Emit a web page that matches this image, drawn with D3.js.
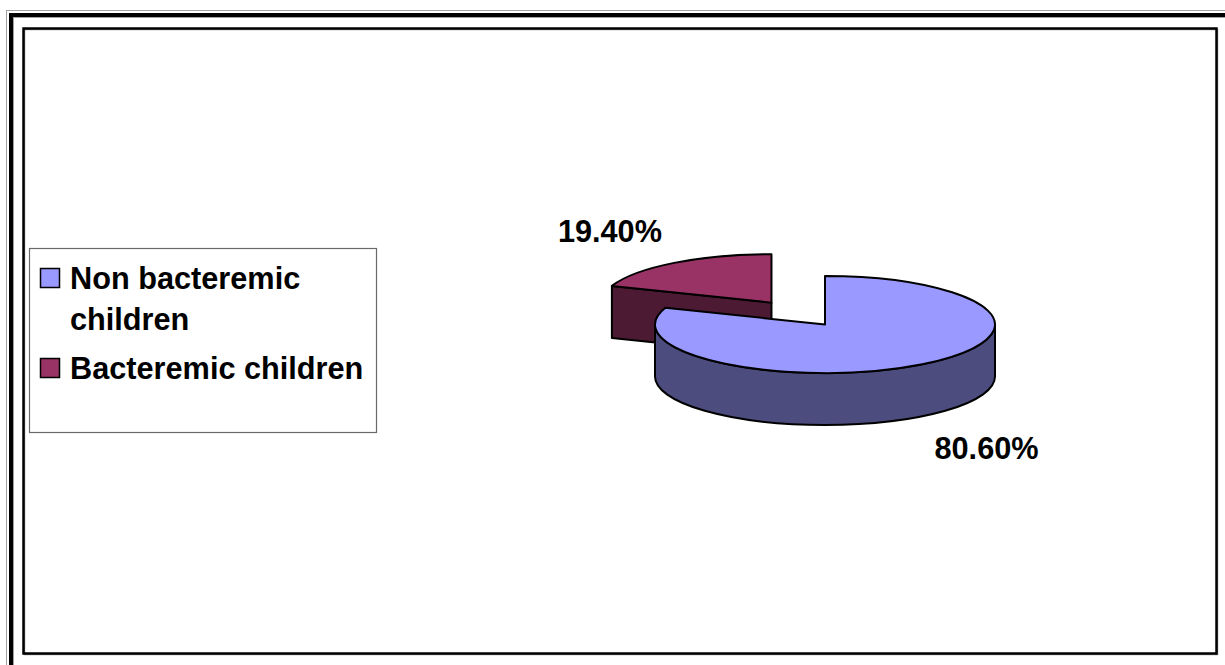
<!DOCTYPE html>
<html>
<head>
<meta charset="utf-8">
<script src="https://cdn.jsdelivr.net/npm/d3@7/dist/d3.min.js"></script>
<style>
  html, body { margin: 0; padding: 0; background: #fff; }
  svg { display: block; }
  text { font-family: "Liberation Sans", Arial, sans-serif; font-weight: bold; fill: #000; }
</style>
</head>
<body>
<svg id="chart" width="1225" height="665"></svg>
<script>
// Share of children by blood-culture result
const categories = ["Non bacteremic children", "Bacteremic children"];
const values = [80.6, 19.4];
const valueLabels = ["80.60%", "19.40%"];
const topColors = ["#9999ff", "#993366"];
const sideColors = ["#4c4c7f", "#4d1a33"];

const W = 1225, H = 665;
const FONT = 30.7;
const svg = d3.select("#chart");

// ---- frames ----
// outer double rule (runs off the right and bottom edges)
svg.append("rect").attr("x", 6.5).attr("y", 10.5).attr("width", 1240).attr("height", 700)
  .attr("fill", "none").attr("stroke", "#a0a0a0").attr("stroke-width", 1);
svg.append("rect").attr("x", 11).attr("y", 15).attr("width", 1240).attr("height", 700)
  .attr("fill", "none").attr("stroke", "#000").attr("stroke-width", 4);
svg.append("rect").attr("x", 13.5).attr("y", 17.5).attr("width", 1240).attr("height", 700)
  .attr("fill", "none").attr("stroke", "#a0a0a0").attr("stroke-width", 1);
// inner plot frame with a light shadow
svg.append("rect").attr("x", 24.5).attr("y", 29.5).attr("width", 1193).attr("height", 625)
  .attr("fill", "none").attr("stroke", "#9a9a9a").attr("stroke-width", 1.5);
svg.append("rect").attr("x", 23.5).attr("y", 28.5).attr("width", 1193).attr("height", 625)
  .attr("fill", "none").attr("stroke", "#000").attr("stroke-width", 2.5);

// ---- 3D pie geometry ----
const cx = 825, cy = 324.5, rx = 170, ry = 48.5, depth = 52;
const explode = [0, 0.55];

const pie = d3.pie().sort(null).value(d => d)
  .startAngle(0).endAngle(2 * Math.PI);
const arcs = pie(values);

// a point on the slice's top ellipse, angle measured clockwise from 12 o'clock
function pt(a, c, dy = 0) {
  return [c[0] + rx * Math.sin(a), c[1] - ry * Math.cos(a) + dy];
}
function centerOf(d, i) {
  const mid = (d.startAngle + d.endAngle) / 2;
  const e = explode[i];
  return [cx + e * rx * Math.sin(mid), cy - e * ry * Math.cos(mid)];
}
function topPath(d, c) {
  const p0 = pt(d.startAngle, c), p1 = pt(d.endAngle, c);
  const large = (d.endAngle - d.startAngle) > Math.PI ? 1 : 0;
  return `M${c[0]},${c[1]}L${p0[0]},${p0[1]}A${rx},${ry} 0 ${large} 1 ${p1[0]},${p1[1]}Z`;
}
// front curved wall between angles a0 and a1 (clockwise)
function wallPath(a0, a1, c) {
  const p0 = pt(a0, c), p1 = pt(a1, c);
  const q0 = pt(a0, c, depth), q1 = pt(a1, c, depth);
  const large = (a1 - a0) > Math.PI ? 1 : 0;
  return `M${p0[0]},${p0[1]}A${rx},${ry} 0 ${large} 1 ${p1[0]},${p1[1]}` +
         `L${q1[0]},${q1[1]}A${rx},${ry} 0 ${large} 0 ${q0[0]},${q0[1]}Z`;
}
// flat radial cut face at angle a
function cutPath(a, c) {
  const p = pt(a, c), q = pt(a, c, depth);
  return `M${c[0]},${c[1]}L${p[0]},${p[1]}L${q[0]},${q[1]}L${c[0]},${c[1] + depth}Z`;
}

const pieG = svg.append("g").attr("stroke", "#000").attr("stroke-width", 2)
  .attr("stroke-linejoin", "round");

// visible front wall range for a slice
function frontRange(d) {
  const a0 = Math.max(d.startAngle, Math.PI / 2);
  const a1 = Math.min(d.endAngle, 3 * Math.PI / 2);
  return a1 > a0 ? [a0, a1] : null;
}

// draw the exploded (back) slice first, then the large slice in front
[1, 0].forEach(i => {
  const d = arcs[i];
  const c = centerOf(d, i);
  const g = pieG.append("g");
  // the leading cut face of a slice starting in the back-left quadrant faces the viewer
  if (d.startAngle > Math.PI && d.startAngle < 2 * Math.PI) {
    g.append("path").attr("d", cutPath(d.startAngle, c)).attr("fill", sideColors[i]);
  }
  const fr = frontRange(d);
  if (fr) g.append("path").attr("d", wallPath(fr[0], fr[1], c)).attr("fill", sideColors[i]);
  g.append("path").attr("d", topPath(d, c)).attr("fill", topColors[i]);
});

// ---- value labels ----
const kx = 1.66, ky = 1.8;
arcs.forEach((d, i) => {
  const c = centerOf(d, i);
  const mid = (d.startAngle + d.endAngle) / 2;
  const x = c[0] + kx * rx * Math.sin(mid);
  const y = c[1] - ky * ry * Math.cos(mid) + (Math.cos(mid) < 0 ? depth : 0);
  svg.append("text").attr("x", x).attr("y", y + 11)
    .attr("text-anchor", "middle").attr("font-size", FONT)
    .text(valueLabels[i]);
});

// ---- legend ----
const legend = svg.append("g");
legend.append("rect").attr("x", 29.5).attr("y", 248.5).attr("width", 347).attr("height", 184)
  .attr("fill", "#fff").attr("stroke", "#6a6a6a").attr("stroke-width", 1.2);

const maxTextW = 295, lineH = 41, itemGap = 49;
let baseY = 289;
categories.forEach((name, i) => {
  legend.append("rect").attr("x", 40.5).attr("y", baseY - 20.5).attr("width", 19).attr("height", 19)
    .attr("fill", topColors[i]).attr("stroke", "#000").attr("stroke-width", 1.5);
  const t = legend.append("text").attr("x", 70).attr("y", baseY).attr("font-size", FONT);
  // word-wrap the entry to the legend width
  const words = name.split(" ");
  let line = [], tspan = t.append("tspan").attr("x", 70).attr("y", baseY), lines = 1;
  words.forEach(w => {
    line.push(w);
    tspan.text(line.join(" "));
    if (tspan.node().getComputedTextLength() > maxTextW && line.length > 1) {
      line.pop();
      tspan.text(line.join(" "));
      line = [w];
      tspan = t.append("tspan").attr("x", 70).attr("y", baseY + lines * lineH).text(w);
      lines++;
    }
  });
  baseY += (lines - 1) * lineH + itemGap;
});
</script>
</body>
</html>
